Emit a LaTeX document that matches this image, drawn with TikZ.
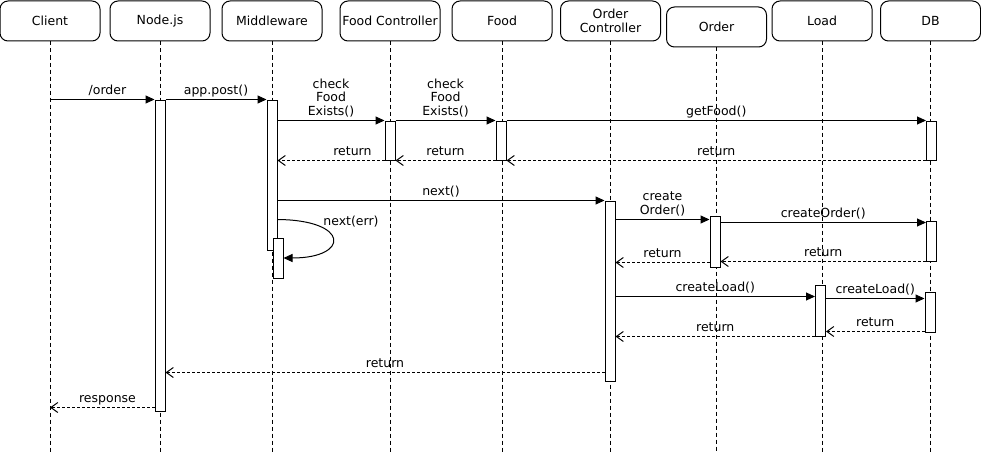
\documentclass[tikz,border=0pt]{standalone}
\usepackage{fontspec}
\setmainfont{DejaVu Sans}
\usetikzlibrary{positioning,arrows.meta}

\begin{document}
\begin{tikzpicture}[x=1pt, y=-1pt, line width=1pt,
    every node/.style={font=\fontsize{12.5}{13.5}\selectfont},
    head/.style={draw, rounded corners=8pt, minimum width=100pt, minimum height=40pt, align=center, inner sep=0pt},
    act/.style={draw, fill=white, minimum width=10pt, inner sep=0pt},
    life/.style={dash pattern=on 4pt off 3pt, line width=0.8pt},
    msg/.style={-{Triangle[length=9pt,width=8pt]}},
    ret/.style={dash pattern=on 3pt off 2pt, -{Straight Barb[length=7pt,width=10pt]}},
    lbl/.style={above, inner sep=2.5pt, text height=9pt, text depth=2.5pt, align=center}]
        \useasboundingbox (0,0) rectangle (981,452);

        % Participants
        \node[head] (client) at (50,21) {Client};
        \node[head] (nodejs) at (160,21) {Node.js};
        \node[head] (mw) at (272,21) {Middleware};
        \node[head] (foodctrl) at (390,21) {Food Controller};
        \node[head] (food) at (502,21) {Food};
        \node[head] (orderctrl) at (610.5,21) {Order\\Controller};
        \node[head] (order) at (716.5,27) {Order};
        \node[head] (load) at (822,21) {Load};
        \node[head] (db) at (930.5,21) {DB};

        % Lifelines
        \foreach \p in {client,nodejs,mw,foodctrl,food,orderctrl,order,load,db}
            \draw[life] (\p.south) -- (\p.south |- 0,452);

        % Activations
        \node[act, minimum height=311pt] (nbar) at (160,255.5) {};
        \node[act, minimum height=150pt] (mwbar) at (272,175) {};
        \node[act, minimum height=40pt] (errbar) at (278,258) {};
        \node[act, minimum height=39pt] (fcbar) at (390,140.5) {};
        \node[act, minimum height=39pt] (fbar) at (501,140.5) {};
        \node[act, minimum height=39pt] (dbbar1) at (931.5,140.5) {};
        \node[act, minimum height=180pt] (ocbar) at (610,291) {};
        \node[act, minimum height=51pt] (obar) at (715,241.5) {};
        \node[act, minimum height=40pt] (dbbar2) at (931.5,241) {};
        \node[act, minimum height=51pt] (lbar) at (820.5,310.5) {};
        \node[act, minimum height=40pt] (dbbar3) at (930,312) {};

        % Food check
        \draw[msg] (client |- nbar.north) -- node[lbl, pos=0.55] {/order} (nbar.north west);
        \draw[msg] (nbar.east |- mwbar.north) -- node[lbl] {app.post()} (mwbar.north west);
        \draw[msg] (mwbar.east |- fcbar.north) -- node[lbl] {check\\Food\\Exists()} (fcbar.north west);
        \draw[msg] (fcbar.north east) -- node[lbl] {check\\Food\\Exists()} (fbar.north west);
        \draw[msg] (fbar.north east) -- node[lbl] {getFood()} (dbbar1.north west);
        \draw[ret] (dbbar1.south west) -- node[lbl] {return} (fbar.south east);
        \draw[ret] (fbar.south west) -- node[lbl] {return} (fcbar.south east);
        \draw[ret] (fcbar.south west) -- node[lbl, pos=0.3] {return} (mwbar.east |- fcbar.south);

        % next() / next(err)
        \draw[msg] (mwbar.east |- ocbar.north) -- node[lbl] {next()} (ocbar.north west);
        \draw[-{Triangle[length=9pt,width=8pt]}] ([yshift=18pt]errbar.north -| mwbar.east)
            .. controls (350,220) and (350,258) .. (errbar.east);
        \node (errlbl) at (351,222) {next(err)};

        % Order creation
        \draw[msg] ([yshift=-4pt]obar.north west -| ocbar.east) -- node[lbl] {create\\Order()} ([yshift=-4pt]obar.north west);
        \draw[msg] ([yshift=-2pt]dbbar2.north west -| obar.east) -- node[lbl] {createOrder()} ([yshift=-2pt]dbbar2.north west);
        \draw[ret] (dbbar2.south west) -- node[lbl] {return} (obar.east |- dbbar2.south);
        \draw[ret] ([yshift=-1pt]obar.west |- dbbar2.south) -- node[lbl] {return} ([yshift=-1pt]ocbar.east |- dbbar2.south);

        % Load creation
        \draw[msg] ([yshift=-12pt]lbar.north west -| ocbar.east) -- node[lbl] {createLoad()} ([yshift=-12pt]lbar.north west);
        \draw[msg] ([yshift=-7pt]dbbar3.north west -| lbar.east) -- node[lbl] {createLoad()} ([yshift=-7pt]dbbar3.north west);
        \draw[ret] ([yshift=1pt]dbbar3.south west) -- node[lbl] {return} ([yshift=1pt]lbar.east |- dbbar3.south);
        \draw[ret] (lbar.south west) -- node[lbl] {return} (ocbar.east |- lbar.south);

        % Responses
        \draw[ret] ([yshift=9pt]ocbar.south west) -- node[lbl] {return} ([yshift=9pt]nbar.east |- ocbar.south);
        \draw[ret] ([yshift=4pt]nbar.south west) -- node[lbl, pos=0.45] {response} ([yshift=4pt]client |- nbar.south);
    \end{tikzpicture}
\end{document}
